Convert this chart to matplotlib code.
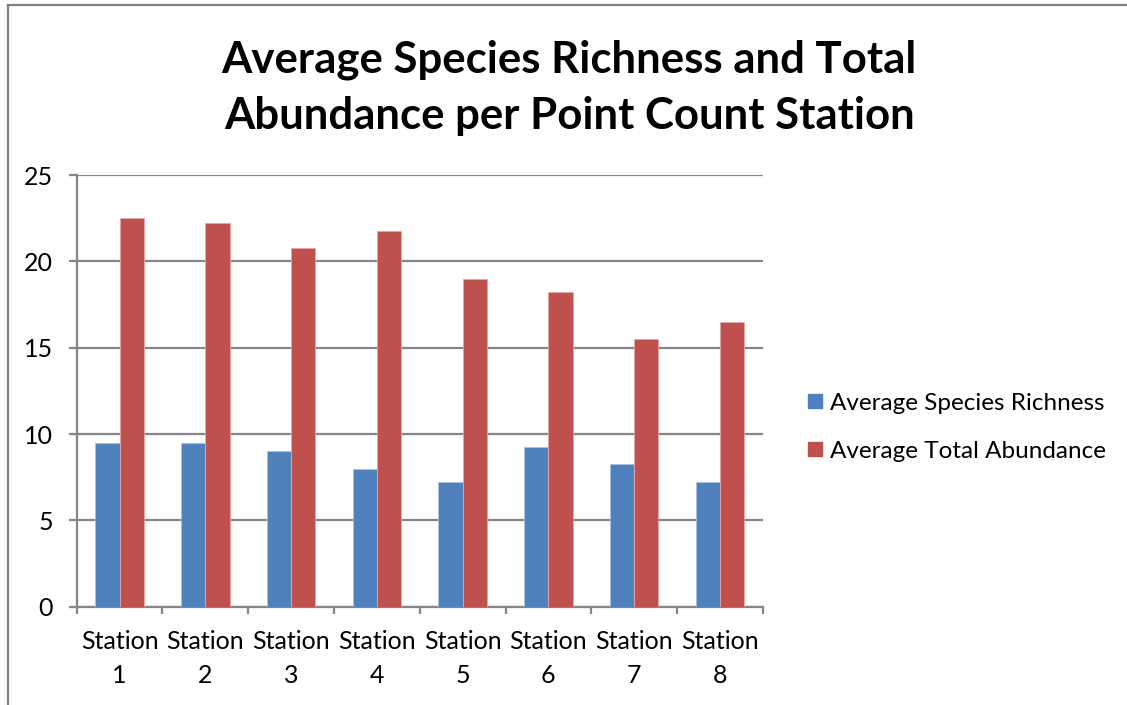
import matplotlib.pyplot as plt
import numpy as np
from matplotlib.lines import Line2D

plt.rcParams['font.family'] = ['Lato', 'DejaVu Sans']

# Werte
stations = ['Station\n1', 'Station\n2', 'Station\n3', 'Station\n4',
            'Station\n5', 'Station\n6', 'Station\n7', 'Station\n8']
richness = [9.5, 9.5, 9.0, 8.0, 7.25, 9.25, 8.25, 7.25]
abundance = [22.5, 22.25, 20.75, 21.75, 19.0, 18.25, 15.5, 16.5]
yticks = [0, 5, 10, 15, 20, 25]

blue = '#4F81BD'
red = '#C0504D'
grey = '#868686'

fig = plt.figure(figsize=(11.27, 7.05), dpi=100)
ax = fig.add_axes([0.0681, 0.1394, 0.6087, 0.6123])

x = np.arange(len(stations))
w = 0.283
ax.bar(x - w/2, richness, w, color=blue, edgecolor='#a9c1e0', linewidth=0.6,
       label='Average Species Richness', zorder=3)
ax.bar(x + w/2, abundance, w, color=red, edgecolor='#e3a9a7', linewidth=0.6,
       label='Average Total Abundance', zorder=3)

ax.set_xlim(-0.5, len(stations) - 0.5)
ax.set_ylim(0, 25)
ax.set_yticks(yticks)
ax.yaxis.grid(True, color=grey, linewidth=1.6, zorder=0)

for s in ['top', 'right']:
    ax.spines[s].set_visible(False)
for s in ['left', 'bottom']:
    ax.spines[s].set_color(grey)
    ax.spines[s].set_linewidth(1.6)

ax.set_xticks(np.arange(len(stations) + 1) - 0.5)
ax.set_xticklabels([])
ax.set_xticks(x, minor=True)
ax.set_xticklabels(stations, minor=True, fontsize=18, linespacing=1.55)
ax.tick_params(axis='x', which='major', length=5, width=1.6, color=grey)
ax.tick_params(axis='x', which='minor', length=0, pad=17)
ax.tick_params(axis='y', length=6, width=1.6, color=grey, labelsize=18, pad=11)

fig.text(0.505, 0.876, 'Average Species Richness and Total\nAbundance per Point Count Station',
         ha='center', va='center', fontsize=31.5, fontweight='bold', linespacing=1.48)

handles = [Line2D([], [], marker='s', linestyle='none', markersize=10.5, color=blue),
           Line2D([], [], marker='s', linestyle='none', markersize=10.5, color=red)]
fig.legend(handles, ['Average Species Richness', 'Average Total Abundance'],
           loc='center left', bbox_to_anchor=(0.697, 0.394), frameon=False,
           fontsize=17.5, handlelength=0.6, handletextpad=0.35, labelspacing=1.1)

# Rahmen des Diagramms
fig.add_artist(Line2D([0.007, 1.0], [0.9936, 0.9936], color='#808080', linewidth=1.6,
                      transform=fig.transFigure))
fig.add_artist(Line2D([0.007, 0.007], [0.0, 0.9936], color='#808080', linewidth=1.6,
                      transform=fig.transFigure))

fig.savefig('out.png', dpi=100)
